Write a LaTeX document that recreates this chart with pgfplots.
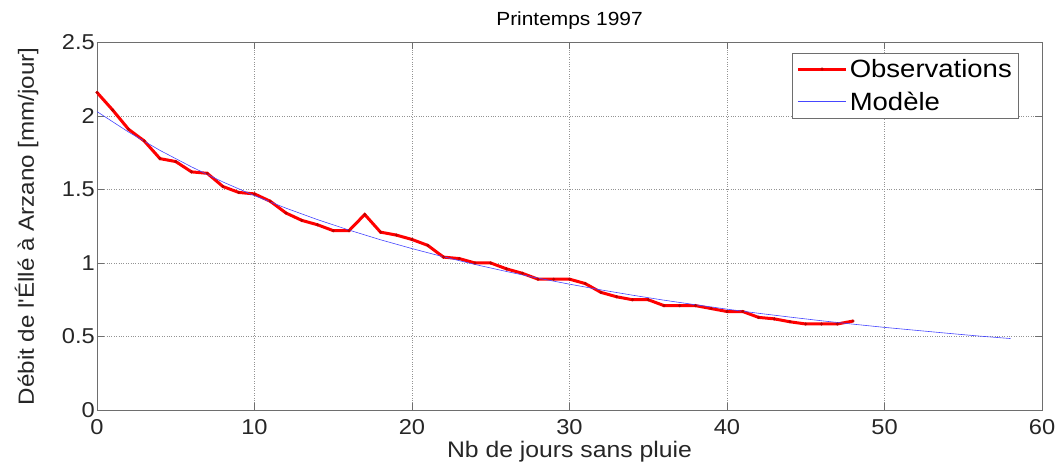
\documentclass[border=0pt]{standalone}
\usepackage{fontspec}
\setmainfont{Liberation Sans}[FakeStretch=1.1]
\usepackage{pgfplots}
\pgfplotsset{compat=1.18}
\definecolor{axgray}{RGB}{110,110,110}
\definecolor{modblue}{RGB}{70,70,255}
\begin{document}
\begin{tikzpicture}
\begin{axis}[name=ax, scale only axis, width=945pt, height=367.5pt,
  xmin=0, xmax=60, ymin=0, ymax=2.5,
  xtick={0,10,...,60}, ytick={0,0.5,1,1.5,2,2.5},
  grid=major, major grid style={dotted, gray!85, line width=0.7pt},
  axis line style={axgray, line width=0.8pt},
  tick style={axgray, line width=0.8pt}, major tick length=7pt, tick align=inside,
  /pgf/number format/assume math mode=true,
  ticklabel style={font=\fontsize{21.5}{23}\selectfont, text=black!85},
  xticklabel style={yshift=-7pt, inner sep=2pt},
  yticklabel style={inner sep=2pt},
  xlabel={Nb de jours sans pluie},
  ylabel={Débit de l\textquotesingle Éllé à Arzano [mm/jour]},
  xlabel style={font=\fontsize{22.5}{24}\selectfont, text=black!85, yshift=-1pt},
  ylabel style={font=\fontsize{22}{24}\selectfont, text=black!85, yshift=18pt},
  title={Printemps 1997},
  title style={font=\fontsize{19}{21}\selectfont, yshift=4pt},
  legend style={at={(0.9746,0.9714)}, anchor=north east, draw=axgray,
    font=\fontsize{25}{28}\selectfont, row sep=9pt, inner xsep=4pt, inner ysep=4pt},
  legend cell align=left,
  legend image code/.code={\draw[mark repeat=2, mark phase=2, #1] plot coordinates {(0cm,0cm) (0.85cm,0cm) (1.7cm,0cm)};},
]
\addplot[red, line width=3pt, mark=*, mark size=1.3pt, mark options={fill=red!75!black, draw=red!75!black, line width=0.5pt}] coordinates {
(0,2.16) (1,2.04) (2,1.91) (3,1.83) (4,1.71) (5,1.69) (6,1.62) (7,1.61) (8,1.52) (9,1.48)
(10,1.47) (11,1.42) (12,1.34) (13,1.29) (14,1.26) (15,1.22) (16,1.22) (17,1.33) (18,1.21) (19,1.19)
(20,1.16) (21,1.12) (22,1.04) (23,1.03) (24,1.00) (25,1.00) (26,0.96) (27,0.93) (28,0.89) (29,0.89)
(30,0.89) (31,0.86) (32,0.80) (33,0.77) (34,0.75) (35,0.75) (36,0.71) (37,0.71) (38,0.71) (39,0.69)
(40,0.67) (41,0.67) (42,0.63) (43,0.62) (44,0.60) (45,0.585) (46,0.585) (47,0.585) (48,0.605)
};
\addlegendentry{Observations}
\addplot[modblue, line width=0.6pt] coordinates {
(0,2.030) (2,1.891) (4,1.766) (6,1.654) (8,1.551) (10,1.458) (12,1.373) (14,1.295) (16,1.224) (18,1.158)
(20,1.098) (22,1.042) (24,0.990) (26,0.942) (28,0.897) (30,0.856) (32,0.817) (34,0.781) (36,0.747) (38,0.716)
(40,0.686) (42,0.658) (44,0.632) (46,0.607) (48,0.584) (50,0.562) (52,0.542) (54,0.522) (56,0.503) (58,0.486)
};
\addlegendentry{Modèle}
\end{axis}
\pgfresetboundingbox
\path ([shift={(-97pt,-60pt)}]ax.south west) rectangle ([shift={(16pt,42.5pt)}]ax.north east);
\end{tikzpicture}
\end{document}
